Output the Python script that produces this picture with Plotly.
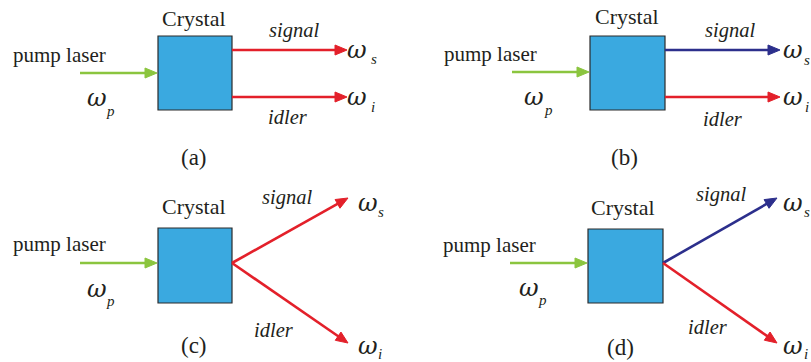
import numpy as np
import plotly.graph_objects as go

W, H = 811, 362

# ---- diagram elements (pixel coordinates of the original figure) ----
panel_labels = ["(a)", "(b)", "(c)", "(d)"]
label_pos = [(194, 157), (624, 157), (194, 345), (620, 347)]

crystal_boxes = [(158, 36, 232, 110), (590, 36, 665, 110),
                 (158, 228, 232, 303), (588, 229, 663, 303)]
crystal_text_pos = [(194, 18), (627, 16), (194, 206), (623, 207)]

pump_text_pos = [(59, 55), (490, 54), (59, 244), (489, 245)]
pump_arrows = [((80, 73), (157, 73)), ((512, 72), (589, 72)),
               ((80, 263), (157, 263)), ((510, 263), (587, 263))]
omega_p_pos = [((97, 98), (110, 111)), ((534, 97), (548, 110)),
               ((97, 289), (110, 301)), ((529, 288), (542, 300))]

signal_arrows = [((232, 50), (347, 50)), ((665, 50), (780, 50)),
                 ((232, 263), (348, 198)), ((663, 263), (777, 198))]
idler_arrows = [((232, 97), (347, 97)), ((665, 97), (780, 97)),
                ((232, 263), (348, 343)), ((663, 263), (777, 343))]
signal_colors = ["#E3202A", "#2C2F8C", "#E3202A", "#2C2F8C"]
idler_color = "#E3202A"

signal_text_pos = [(294, 30), (730, 30), (287, 197), (721, 194)]
idler_text_pos = [(288, 117), (723, 119), (274, 330), (708, 327)]

omega_s_pos = [((357, 50), (374, 59)), ((793, 50), (807, 60)),
               ((368, 203), (381, 212)), ((793, 203), (807, 212))]
omega_i_pos = [((357, 97), (373, 107)), ((793, 97), (807, 107)),
               ((368, 346), (380, 354)), ((793, 346), (806, 354))]

BOX_FILL = "#3AA9E0"
GREEN = "#8BC53F"
SERIF = "Liberation Serif"
TXT = "#231F20"

fig = go.Figure()
shapes = []
annotations = []


def arrow(p0, p1, color, width=2.6, head_len=12, head_half=5):
    p0 = np.array(p0, float)
    p1 = np.array(p1, float)
    d = p1 - p0
    L = np.hypot(*d)
    u = d / L
    n = np.array([-u[1], u[0]])
    base = p1 - u * head_len
    shapes.append(dict(type="line", x0=p0[0], y0=p0[1], x1=base[0] + u[0],
                       y1=base[1] + u[1], line=dict(color=color, width=width)))
    b1 = base + n * head_half
    b2 = base - n * head_half
    path = f"M {p1[0]},{p1[1]} L {b1[0]},{b1[1]} L {b2[0]},{b2[1]} Z"
    shapes.append(dict(type="path", path=path, fillcolor=color,
                       line=dict(color=color, width=1)))


def text(x, y, s, size, italic=False, family=SERIF):
    annotations.append(dict(x=x, y=y, xref="x", yref="y", text=s,
                            showarrow=False, xanchor="center", yanchor="middle",
                            font=dict(family=family, size=size, color=TXT,
                                      style="italic" if italic else "normal")))


OMEGA_FONT = "DejaVu Serif"

for k in range(4):
    x0, y0, x1, y1 = crystal_boxes[k]
    shapes.append(dict(type="rect", x0=x0, y0=y0, x1=x1, y1=y1,
                       fillcolor=BOX_FILL, line=dict(color="#2B2B2B", width=1.2)))
    text(*crystal_text_pos[k], "Crystal", 22)
    text(*pump_text_pos[k], "pump laser", 21)
    arrow(*pump_arrows[k], GREEN)
    (wx, wy), (sx, sy) = omega_p_pos[k]
    text(wx, wy, "ω", 24, True, OMEGA_FONT)
    text(sx, sy, "p", 15, True)
    arrow(*signal_arrows[k], signal_colors[k])
    arrow(*idler_arrows[k], idler_color)
    text(*signal_text_pos[k], "signal", 20.5, True)
    text(*idler_text_pos[k], "idler", 20.5, True)
    (wx, wy), (sx, sy) = omega_s_pos[k]
    text(wx, wy, "ω", 24, True, OMEGA_FONT)
    text(sx, sy, "s", 15, True)
    (wx, wy), (sx, sy) = omega_i_pos[k]
    text(wx, wy, "ω", 24, True, OMEGA_FONT)
    text(sx, sy, "i", 15, True)
    text(*label_pos[k], panel_labels[k], 23)

fig.update_layout(
    width=W, height=H, margin=dict(l=0, r=0, t=0, b=0),
    paper_bgcolor="white", plot_bgcolor="white",
    xaxis=dict(range=[0, W], visible=False, fixedrange=True),
    yaxis=dict(range=[H, 0], visible=False, fixedrange=True),
    shapes=shapes, annotations=annotations, showlegend=False,
)

fig.write_html("out.html")
